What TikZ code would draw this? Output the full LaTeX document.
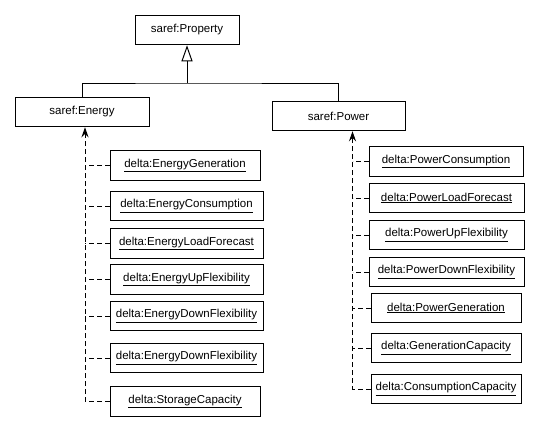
\documentclass[tikz,border=0pt]{standalone}
\usepackage{fontspec}
\setmainfont{Liberation Sans}
\usetikzlibrary{arrows.meta}

\begin{document}
\begin{tikzpicture}[x = 1pt, y = -1pt, font = \fontsize{11.5}{13}\selectfont,
	cls/.style = {draw, line width = 1pt, minimum height = 29.5pt, inner sep = 0pt},
	dep/.style = {line width = 1pt, dash pattern = on 5pt off 3pt},
	realizes/.style = {dep, -{Stealth[length = 10pt, width = 7pt]}}]
	\useasboundingbox (0,0) rectangle (545,432);
	\node [cls, minimum width = 104pt] (prop) at (187,30) {saref:Property};
	\node [cls, minimum width = 134pt] (energy) at (82,112) {saref:Energy};
	\node [cls, minimum width = 133pt] (power) at (338.5,116) {saref:Power};
	\coordinate (jn) at (187,83);
	\coordinate (espine) at (85,0);
	\coordinate (pspine) at (352.5,0);
	\draw [line width = 1pt] (energy.north) |- (jn) -| (power.north);
	\draw [line width = 1pt, -{Triangle[open, length = 16pt, width = 11pt]}] (jn) -- (prop.south);
	% energy side
	\foreach \n/\x/\y/\w/\t in {eg/185/165.5/150/EnergyGeneration, ec/186.5/206/153/EnergyConsumption,
		elf/186.5/243.5/153/EnergyLoadForecast, euf/186.5/279.5/153/EnergyUpFlexibility,
		edf/186.5/316/153/EnergyDownFlexibility, edg/186.5/358/153/EnergyDownFlexibility,
		sc/185/401.5/150/StorageCapacity}{
	\node [cls, minimum width = \w pt] (\n) at (\x,\y) {\underline{delta:\t}};
	\draw [dep] (\n.west) -- (\n.west -| espine);
	}
	\draw [realizes] (sc.west) -| (energy.south -| espine);
	% power side
	\foreach \n/\x/\y/\w/\t in {pc/446/161.5/154/PowerConsumption, plf/446.5/198/155/PowerLoadForecast,
		puf/446.5/235/155/PowerUpFlexibility, pdf/446.5/272/155/PowerDownFlexibility,
		pg/446/308/150/PowerGeneration, gc/446/348/150/GenerationCapacity,
		cc/446/389/150/ConsumptionCapacity}{
	\node [cls, minimum width = \w pt] (\n) at (\x,\y) {\underline{delta:\t}};
	\draw [dep] (\n.west) -- (\n.west -| pspine);
	}
	\draw [realizes] (cc.west) -| (power.south -| pspine);
\end{tikzpicture}
\end{document}
